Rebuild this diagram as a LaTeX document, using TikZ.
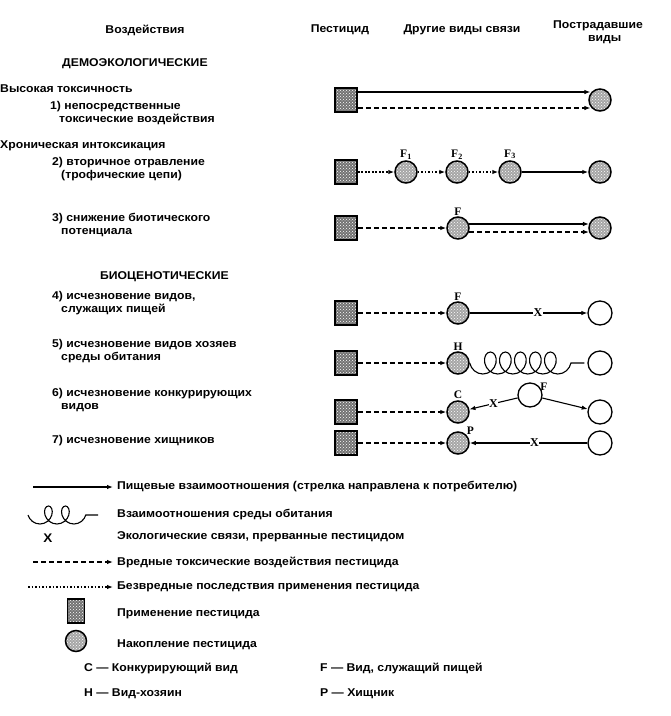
\documentclass[tikz,border=0pt]{standalone}
\usepackage{fontspec}
\setmainfont{Liberation Sans}[FakeStretch=1.08]
\newfontfamily\lblfont{Liberation Serif}
\usetikzlibrary{arrows.meta,positioning,patterns,decorations.pathmorphing}

\begin{document}
\begin{tikzpicture}[x=1pt,y=-1pt,
    font=\bfseries\fontsize{11.3}{13}\selectfont,
    pest/.style={draw, line width=1.8pt, minimum width=22pt, minimum height=24pt, inner sep=0pt,
      preaction={fill=black!55}, pattern=crosshatch dots, pattern color=white},
    accum/.style={circle, draw, line width=1.5pt, minimum size=22pt, inner sep=0pt,
      preaction={fill=black!35}, pattern=crosshatch dots, pattern color=white},
    victim/.style={circle, draw, line width=1.3pt, minimum size=24pt, inner sep=0pt},
    letter/.style={font=\lblfont\bfseries\fontsize{11.5}{12}\selectfont, inner sep=1pt},
    food/.style={-{Latex[length=6pt,width=4.5pt]}, line width=1.1pt},
    harm/.style={food, dash pattern=on 5pt off 3pt},
    harmless/.style={food, dash pattern=on 1.6pt off 1.9pt},
    habitat/.style={decorate, decoration={coil, mirror, aspect=0.85, segment length=15pt, amplitude=11pt}, line width=1.1pt},
    brk/.style={fill=white, inner sep=0.5pt, font=\lblfont\bfseries\fontsize{12}{12}\selectfont},
    txt/.style={anchor=west, align=left, inner sep=0pt}
  ]
  \useasboundingbox (0,0) rectangle (671,716);

  % column heads
  \node (hdEff) at (145,30) {Воздействия};
  \node (hdPest) at (340,30) {Пестицид};
  \node (hdLink) at (462,30) {Другие виды связи};
  \node[align=center] (hdVict) at (598,32) {Пострадавшие\\\hspace*{1.2em}виды};

  % left column
  \node[txt] (demo) at (62,64) {ДЕМОЭКОЛОГИЧЕСКИЕ};
  \node[txt] (acute) at (0,89) {Высокая токсичность};
  \node[txt] (it1) at (50,113) {1) непосредственные\\\hspace*{0.8em}токсические воздействия};
  \node[txt] (chron) at (0,146) {Хроническая интоксикация};
  \node[txt] (it2) at (52,169) {2) вторичное отравление\\\hspace*{0.8em}(трофические цепи)};
  \node[txt] (it3) at (52,225) {3) снижение биотического\\\hspace*{0.8em}потенциала};
  \node[txt] (bio) at (100,277) {БИОЦЕНОТИЧЕСКИЕ};
  \node[txt] (it4) at (52,303) {4) исчезновение видов,\\\hspace*{0.8em}служащих пищей};
  \node[txt] (it5) at (52,351) {5) исчезновение видов хозяев\\\hspace*{0.8em}среды обитания};
  \node[txt] (it6) at (52,400) {6) исчезновение конкурирующих\\\hspace*{0.8em}видов};
  \node[txt] (it7) at (52,441) {7) исчезновение хищников};

  % 1
  \node[pest] (p1) at (346,100) {};
  \node[accum] (v1) at (600,100) {};
  \draw[food] ([yshift=8pt]p1.east) -- ([yshift=8pt]p1.east -| v1.145);
  \draw[harm] ([yshift=-8pt]p1.east) -- ([yshift=-8pt]p1.east -| v1.215);

  % 2
  \node[pest] (p2) at (346,172) {};
  \node[accum, label={[letter]above:F\textsubscript{1}}] (f1) at (406,172) {};
  \node[accum, label={[letter]above:F\textsubscript{2}}] (f2) at (457,172) {};
  \node[accum, label={[letter]above:F\textsubscript{3}}] (f3) at (510,172) {};
  \node[accum] (v2) at (600,172) {};
  \draw[harmless] (p2) -- (f1);
  \draw[harmless] (f1) -- (f2);
  \draw[harmless] (f2) -- (f3);
  \draw[food] (f3) -- (v2);

  % 3
  \node[pest] (p3) at (346,228) {};
  \node[accum, label={[letter]above:F}] (fr3) at (458,228) {};
  \node[accum] (v3) at (600,228) {};
  \draw[harm] (p3) -- (fr3);
  \draw[food] (fr3.20) -- (fr3.20 -| v3.160);
  \draw[harm] (fr3.-20) -- (fr3.-20 -| v3.200);

  % 4
  \node[pest] (p4) at (346,313) {};
  \node[accum, label={[letter]above:F}] (fr4) at (458,313) {};
  \node[victim] (v4) at (600,313) {};
  \draw[harm] (p4) -- (fr4);
  \draw[food] (fr4) -- node[brk, pos=0.58] {X} (v4);

  % 5
  \node[pest] (p5) at (346,363) {};
  \node[accum, label={[letter]above:H}] (h5) at (458,363) {};
  \node[victim] (v5) at (600,363) {};
  \draw[harm] (p5) -- (h5);
  \draw[habitat] (h5.east) -- ([xshift=-3pt]v5.west);

  % 6
  \node[pest] (p6) at (346,412) {};
  \node[accum, label={[letter]above:C}] (c6) at (458,412) {};
  \node[victim, label={[letter, label distance=-3pt]20:F}] (m6) at (530,395) {};
  \node[victim] (v6) at (600,412) {};
  \draw[harm] (p6) -- (c6);
  \draw[food] (m6) -- node[brk] {X} (c6);
  \draw[food] (m6) -- (v6);

  % 7
  \node[pest] (p7) at (346,443) {};
  \node[accum, label={[letter, label distance=-1pt]45:P}] (p7a) at (458,443) {};
  \node[victim] (v7) at (600,443) {};
  \draw[harm] (p7) -- (p7a);
  \draw[food] (v7) -- node[brk, pos=0.45] {X} (p7a);

  % legend
  \coordinate (k1a) at (33,487);
  \coordinate (k1b) at (113,487);
  \draw[food] (k1a) -- (k1b);
  \node[txt] (k1) at (117,487) {Пищевые взаимоотношения (стрелка направлена к потребителю)};
  \coordinate (k2a) at (28,515);
  \coordinate (k2b) at (98,515);
  \draw[habitat, decoration={amplitude=9pt, segment length=17pt}] (k2a) -- (k2b);
  \node[txt] (k2) at (117,515) {Взаимоотношения среды обитания};
  \node[font=\bfseries\fontsize{12.5}{13}\selectfont] (kx) at (48,538) {X};
  \node[txt] (k3) at (117,537) {Экологические связи, прерванные пестицидом};
  \coordinate (k4a) at (33,562);
  \coordinate (k4b) at (113,562);
  \draw[harm] (k4a) -- (k4b);
  \node[txt] (k4) at (117,562) {Вредные токсические воздействия пестицида};
  \coordinate (k5a) at (28,587);
  \coordinate (k5b) at (113,587);
  \draw[harmless] (k5a) -- (k5b);
  \node[txt] (k5) at (117,587) {Безвредные последствия применения пестицида};
  \node[pest, minimum width=17pt, minimum height=24pt] (kp) at (76,611) {};
  \node[txt] (k6) at (117,614) {Применение пестицида};
  \node[accum, minimum size=21pt] (ka) at (76,641) {};
  \node[txt] (k7) at (117,645) {Накопление пестицида};
  \node[txt] (k8) at (84,668) {C — Конкурирующий вид};
  \node[txt] (k9) at (320,668) {F — Вид, служащий пищей};
  \node[txt] (k10) at (84,694) {H — Вид-хозяин};
  \node[txt] (k11) at (320,694) {P — Хищник};
\end{tikzpicture}
\end{document}
